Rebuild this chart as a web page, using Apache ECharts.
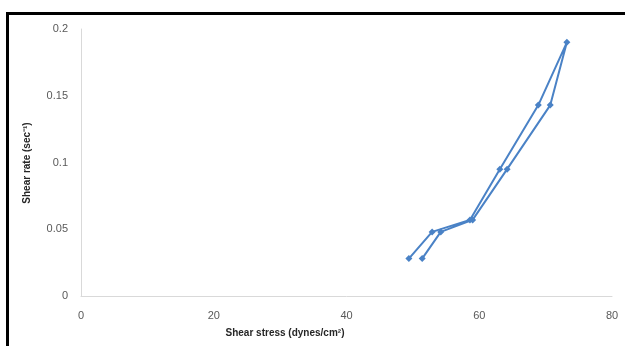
<!DOCTYPE html>
<html>
<head>
<meta charset="utf-8">
<script src="https://cdn.jsdelivr.net/npm/echarts@6/dist/echarts.min.js"></script>
<style>html,body{margin:0;padding:0;background:#fff}#c{width:625px;height:346px}</style>
</head>
<body>
<div id="c"></div>
<script>
// Shear stress (dynes/cm²) vs shear rate (sec⁻¹), loop order as drawn
var shearStress = [49.4, 52.9, 58.6, 63.1, 68.9, 73.2, 70.7, 64.2, 59.0, 54.2, 51.4];
var shearRate   = [0.028, 0.048, 0.057, 0.095, 0.143, 0.19, 0.143, 0.095, 0.057, 0.048, 0.028];
var xTitle = 'Shear stress (dynes/cm²)';
var yTitle = 'Shear rate (sec⁻¹)';

var pts = shearStress.map(function (x, i) { return [x, shearRate[i]]; });
var chart = echarts.init(document.getElementById('c'), null, {renderer: 'canvas'});
var font = '"Liberation Sans", "Open Sans", sans-serif';
chart.setOption({
  animation: false,
  backgroundColor: '#fff',
  grid: {left: 81, right: 13, top: 29, bottom: 50},
  xAxis: {
    type: 'value', min: 0, max: 80, interval: 20,
    axisLine: {show: true, lineStyle: {color: '#d9d9d9', width: 1}},
    axisTick: {show: false},
    splitLine: {show: false},
    axisLabel: {color: '#595959', fontSize: 11, fontFamily: font, margin: 14}
  },
  yAxis: {
    type: 'value', min: 0, max: 0.2, interval: 0.05,
    axisLine: {show: true, lineStyle: {color: '#d9d9d9', width: 1}},
    axisTick: {show: false},
    splitLine: {show: false},
    axisLabel: {color: '#595959', fontSize: 11, fontFamily: font, margin: 13}
  },
  series: [{
    type: 'line', data: pts,
    symbol: 'diamond', symbolSize: 7,
    lineStyle: {color: '#4a82c6', width: 2},
    itemStyle: {color: '#4a82c6'}
  }],
  graphic: [
    {type: 'polyline', silent: true,
     shape: {points: [[7.5, 346], [7.5, 13.5], [625, 13.5]]},
     style: {stroke: '#000', lineWidth: 3, fill: null}},
    {type: 'text', x: 285, y: 333, silent: true,
     style: {text: xTitle, font: 'bold 10px ' + font, fill: '#262626', textAlign: 'center', textVerticalAlign: 'middle'}},
    {type: 'text', x: 27, y: 163, rotation: Math.PI / 2, silent: true,
     style: {text: yTitle, font: 'bold 10px ' + font, fill: '#262626', textAlign: 'center', textVerticalAlign: 'middle'}}
  ]
});
</script>
</body>
</html>
